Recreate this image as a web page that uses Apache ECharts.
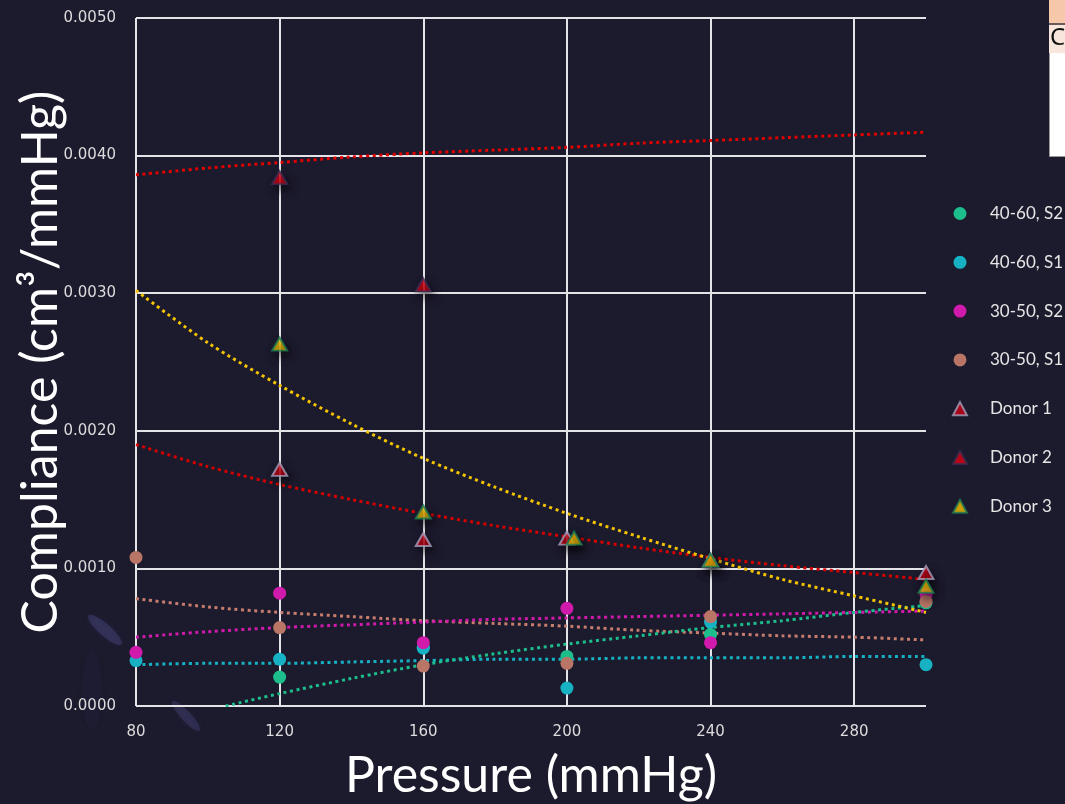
<!DOCTYPE html>
<html>
<head>
<meta charset="utf-8">
<script src="https://cdn.jsdelivr.net/npm/echarts@6/dist/echarts.min.js"></script>
<style>
html,body{margin:0;padding:0;background:#1c1a2d;}
#chart{width:1065px;height:804px;}
</style>
</head>
<body>
<div id="chart"></div>
<script>
// ---- data ----
const pressures = [80, 120, 160, 200, 240, 300];
const s4060S2 = [null, 0.00021, 0.00043, 0.00036, 0.00052, 0.00075];
const s4060S1 = [0.00033, 0.00034, 0.00042, 0.00013, 0.00061, 0.00030];
const s3050S2 = [0.00039, 0.00082, 0.00046, 0.00071, 0.00046, 0.00081];
const s3050S1 = [0.00108, 0.00057, 0.00029, 0.00031, 0.00065, 0.00076];
const donor1 = [null, 0.00172, 0.00121, 0.00122, 0.00106, 0.00097];
const donor2 = [null, 0.00384, 0.00306, null, null, null];
const donor3X = [120, 160, 202, 240, 300];
const donor3 = [0.00263, 0.00141, 0.00122, 0.00106, 0.00087];

// trend lines
const trendX = [80, 100, 120, 140, 160, 180, 200, 220, 240, 260, 280, 300];
const trendDonor2 = [0.00386, 0.00391, 0.00395, 0.00399, 0.00402, 0.00404, 0.00406, 0.00409, 0.00411, 0.00413, 0.00415, 0.00417];
const trendDonor1 = [0.00190, 0.00174, 0.00161, 0.00150, 0.00140, 0.00131, 0.00123, 0.00115, 0.00108, 0.00102, 0.00097, 0.00092];
const trendDonor3 = [0.00302, 0.00264, 0.00233, 0.00205, 0.00180, 0.00159, 0.00140, 0.00123, 0.00107, 0.00092, 0.00080, 0.00068];
const trend3050S2 = [0.00050, 0.00054, 0.00057, 0.00059, 0.00061, 0.00063, 0.00064, 0.00065, 0.00066, 0.00067, 0.00068, 0.00069];
const trend3050S1 = [0.00078, 0.00072, 0.00068, 0.00065, 0.00062, 0.00060, 0.00058, 0.00055, 0.00053, 0.00051, 0.00050, 0.00048];
const trend4060S1 = [0.00030, 0.00031, 0.00031, 0.00032, 0.00033, 0.00034, 0.00034, 0.00035, 0.00035, 0.00035, 0.00036, 0.00036];
const trend4060S2X = [105, 120, 140, 160, 180, 200, 220, 240, 260, 280, 300];
const trend4060S2 = [0.00000, 0.00009, 0.00020, 0.00030, 0.00038, 0.00045, 0.00051, 0.00057, 0.00062, 0.00068, 0.00073];

const xTicks = [80, 120, 160, 200, 240, 280];
const legendNames = ['40-60, S2', '40-60, S1', '30-50, S2', '30-50, S1', 'Donor 1', 'Donor 2', 'Donor 3'];

// ---- helpers ----
function pairs(xs, ys) {
  const out = [];
  xs.forEach((x, i) => { if (ys[i] !== null && ys[i] !== undefined) out.push([x, ys[i]]); });
  return out;
}
function trend(xs, ys, color) {
  return {
    type: 'line', data: pairs(xs, ys), showSymbol: false, symbol: 'none', smooth: 0.3,
    silent: true, z: 1, legendHoverLink: false,
    lineStyle: { color: color, width: 3, type: [3, 3.6] }
  };
}
function dots(name, ys, color) {
  return {
    name: name, type: 'scatter', data: pairs(pressures, ys), symbol: 'circle', symbolSize: 13, z: 3,
    itemStyle: { color: color, opacity: 1 }
  };
}
const triShadow = { shadowColor: 'rgba(0,0,0,0.65)', shadowBlur: 8, shadowOffsetX: 3, shadowOffsetY: 5 };

const chart = echarts.init(document.getElementById('chart'), null, { renderer: 'canvas' });
const gridColor = '#e4e4e8';
chart.setOption({
  backgroundColor: '#1c1a2d',
  animation: false,
  grid: { left: 136, right: 139, top: 18, bottom: 98, containLabel: false, outerBoundsMode: 'none' },
  xAxis: {
    type: 'value', min: 80, max: 300, interval: 40,
    name: 'Pressure (mmHg)', nameLocation: 'middle', nameGap: 45, nameMoveOverlap: false,
    nameTextStyle: { color: '#ffffff', fontSize: 50, fontFamily: 'Lato' },
    axisLine: { show: false }, axisTick: { show: false },
    axisLabel: { color: '#dcdcdc', fontSize: 15, fontFamily: 'DejaVu Sans', margin: 19, showMaxLabel: false,
      formatter: v => (xTicks.indexOf(v) >= 0 ? String(v) : '') },
    splitLine: { show: true, lineStyle: { color: [gridColor, gridColor, gridColor, gridColor, gridColor, gridColor, 'rgba(0,0,0,0)'], width: 2 } }
  },
  yAxis: {
    type: 'value', min: 0, max: 0.005, interval: 0.001,
    name: 'Compliance (cm³/mmHg)', nameLocation: 'middle', nameGap: 70, nameMoveOverlap: false,
    nameTextStyle: { color: '#ffffff', fontSize: 50, fontFamily: 'Lato' },
    axisLine: { show: false }, axisTick: { show: false },
    axisLabel: { color: '#dcdcdc', fontSize: 15, fontFamily: 'DejaVu Sans', margin: 20, formatter: v => v.toFixed(4) },
    splitLine: { show: true, lineStyle: { color: gridColor, width: 2 } }
  },
  legend: {
    data: legendNames, orient: 'vertical', left: 947, top: 200, itemGap: 31.8,
    itemWidth: 14, itemHeight: 13, selectedMode: false,
    textStyle: { color: '#e6e6e6', fontSize: 17, fontFamily: 'Lato', padding: [0, 0, 0, 18] }
  },
  graphic: [
    { type: 'rect', left: 1049, top: 0, shape: { width: 16, height: 23 }, style: { fill: '#f6c7a9' }, silent: true },
    { type: 'rect', left: 1049, top: 23, shape: { width: 16, height: 2 }, style: { fill: '#6a5a5a' }, silent: true },
    { type: 'rect', left: 1049, top: 25, shape: { width: 16, height: 131 }, style: { fill: '#ffffff', stroke: '#9a9a9a', lineWidth: 1 }, silent: true },
    { type: 'rect', left: 1049, top: 25, shape: { width: 16, height: 28 }, style: { fill: '#f8e6dc' }, silent: true },
    { type: 'text', left: 1050, top: 26, style: { text: 'Co', fill: '#111111', font: '24px "Noto Sans"' }, silent: true },
    { type: 'ellipse', x: 105, y: 630, rotation: 0.85, shape: { cx: 0, cy: 0, rx: 6, ry: 22 },
      style: { fill: 'rgba(90,90,160,0.3)', shadowBlur: 6, shadowColor: 'rgba(90,90,160,0.4)' }, silent: true, z: 0 },
    { type: 'ellipse', x: 186, y: 716, rotation: 0.75, shape: { cx: 0, cy: 0, rx: 5, ry: 20 },
      style: { fill: 'rgba(90,90,160,0.25)', shadowBlur: 6, shadowColor: 'rgba(90,90,160,0.4)' }, silent: true, z: 0 },
    { type: 'ellipse', x: 92, y: 690, shape: { cx: 0, cy: 0, rx: 10, ry: 40 },
      style: { fill: 'rgba(70,70,120,0.08)', shadowBlur: 14, shadowColor: 'rgba(70,70,120,0.2)' }, silent: true, z: 0 }
  ],
  series: [
    trend(trendX, trendDonor2, '#e00000'),
    trend(trendX, trendDonor1, '#d40000'),
    trend(trendX, trend3050S1, '#c77d6e'),
    trend(trendX, trend3050S2, '#d01aac'),
    trend(trendX, trend4060S1, '#16b2c4'),
    trend(trend4060S2X, trend4060S2, '#1cbf8c'),
    trend(trendX, trendDonor3, '#f5c400'),
    dots('40-60, S2', s4060S2, '#1cbf8c'),
    dots('40-60, S1', s4060S1, '#16b2c4'),
    dots('30-50, S2', s3050S2, '#d01aac'),
    dots('30-50, S1', s3050S1, '#b97566'),
    { name: 'Donor 1', type: 'scatter', data: pairs(pressures, donor1), symbol: 'triangle', symbolSize: [15, 13], z: 4,
      itemStyle: Object.assign({ color: '#cc0010', borderColor: '#a59fbd', borderWidth: 2 }, triShadow) },
    { name: 'Donor 2', type: 'scatter', data: pairs(pressures, donor2), symbol: 'triangle', symbolSize: [15, 13], z: 4,
      itemStyle: Object.assign({ color: '#e00010', borderColor: '#3e2c52', borderWidth: 2 }, triShadow) },
    { name: 'Donor 3', type: 'scatter', data: pairs(donor3X, donor3), symbol: 'triangle', symbolSize: [15, 13], z: 4,
      itemStyle: Object.assign({ color: '#f5c000', borderColor: '#1b7a52', borderWidth: 2 }, triShadow) }
  ]
});
</script>
</body>
</html>
